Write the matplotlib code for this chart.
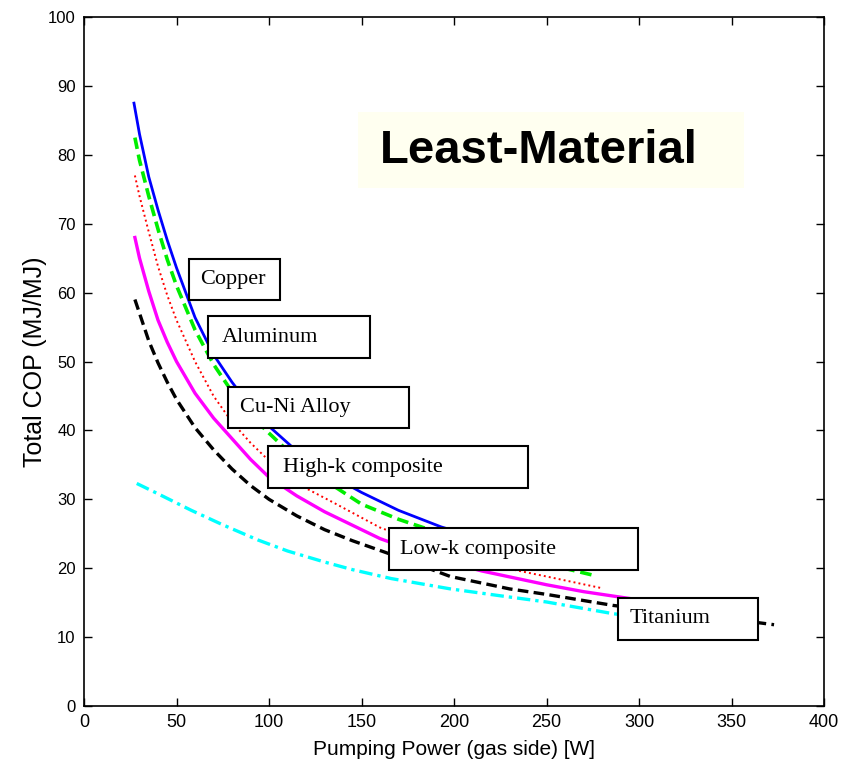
import matplotlib
matplotlib.use("Agg")
import matplotlib.pyplot as plt
from matplotlib.patches import Rectangle

# series (x = pumping power [W], y = total COP)
copperX = [27, 30, 35, 40, 45, 50, 60, 70, 80, 90, 100, 115, 130, 150, 170, 193, 230, 270]
copperY = [87.5, 83.0, 76.8, 72.0, 67.6, 63.6, 56.4, 51.0, 47.0, 43.5, 40.6, 37.0,
           34.0, 31.0, 28.4, 26.0, 23.0, 20.5]

aluminumX = [27.5, 30, 35, 40, 45, 50, 60, 70, 80, 90, 100, 115, 130, 150, 170, 190, 230, 275]
aluminumY = [82.5, 79.2, 74.0, 69.2, 64.8, 61.0, 54.6, 49.6, 45.6, 42.2, 39.6, 35.8,
             32.8, 29.3, 27.1, 25.3, 21.9, 19.0]

cuNiX = [27.5, 30, 35, 40, 45, 50, 60, 70, 80, 90, 100, 115, 135, 160, 200, 230, 250, 280]
cuNiY = [77.0, 74.0, 68.8, 63.8, 59.6, 56.0, 50.0, 45.0, 41.2, 38.2, 35.6, 32.3,
         29.5, 25.9, 22.0, 19.9, 18.8, 17.1]

highKX = [27.5, 30, 35, 40, 45, 50, 60, 70, 80, 90, 100, 115, 130, 160, 190, 215, 250, 270, 295]
highKY = [68.0, 65.0, 60.2, 56.0, 52.8, 50.0, 45.4, 41.8, 38.8, 35.8, 33.2, 30.5,
          28.2, 24.3, 21.4, 19.6, 17.6, 16.6, 15.6]

lowKX = [27.5, 30, 35, 40, 45, 50, 60, 70, 80, 90, 100, 115, 130, 145, 165, 198, 230,
         250, 286, 320, 350, 373]
lowKY = [59.0, 57.0, 53.0, 49.8, 47.0, 44.5, 40.4, 37.2, 34.4, 32.0, 30.0, 27.6,
         25.6, 24.0, 22.1, 18.8, 17.0, 16.2, 14.6, 13.5, 12.6, 11.8]

titaniumX = [28.5, 40, 58, 75, 94, 110, 130, 145, 166, 198, 225, 250, 286, 295]
titaniumY = [32.3, 30.8, 28.4, 26.3, 24.1, 22.5, 20.9, 19.8, 18.5, 17.0, 16.0, 15.1, 13.4, 13.1]

seriesNames = ["Copper", "Aluminum", "Cu-Ni Alloy", "High-k composite",
               "Low-k composite", "Titanium"]

# label boxes: (x0, x1, y0, y1) in data units, text x start
labelBoxes = [(56.8, 105.9, 58.9, 64.9), (67.0, 154.6, 50.5, 56.6),
              (77.8, 175.7, 40.3, 46.3), (99.5, 240.0, 31.6, 37.7),
              (164.9, 299.5, 19.7, 25.8), (288.6, 364.3, 9.6, 15.7)]
labelTextX = [62.7, 74.6, 84.3, 107.6, 170.8, 295.1]

xTicks = [0, 50, 100, 150, 200, 250, 300, 350, 400]
yTicks = [0, 10, 20, 30, 40, 50, 60, 70, 80, 90, 100]

fig = plt.figure(figsize=(8.53, 7.70), dpi=100)
ax = fig.add_axes([0.0985, 0.0831, 0.8675, 0.8948])

ax.plot(copperX, copperY, color="#0000ff", lw=2.0, ls="-", zorder=3)
ax.plot(aluminumX, aluminumY, color="#00ee00", lw=2.6, ls=(0, (3.2, 1.6)), zorder=3)
ax.plot(cuNiX, cuNiY, color="#ff0000", lw=1.4, ls=(0, (1, 1.6)), zorder=3)
ax.plot(highKX, highKY, color="#ff00ff", lw=2.4, ls="-", zorder=3)
ax.plot(lowKX, lowKY, color="black", lw=2.4, ls=(0, (3.2, 1.6)), zorder=3)
ax.plot(titaniumX, titaniumY, color="#00ffff", lw=2.4, ls=(0, (4, 1.5, 1, 1.5)), zorder=3)

for name, (x0, x1, y0, y1), tx in zip(seriesNames, labelBoxes, labelTextX):
    ax.add_patch(Rectangle((x0, y0), x1 - x0, y1 - y0, facecolor="white",
                           edgecolor="black", lw=1.5, zorder=5))
    ax.text(tx, (y0 + y1) / 2, name, ha="left", va="center", fontsize=16,
            family="Liberation Serif", zorder=6)

ax.add_patch(Rectangle((148.1, 75.2), 208.7, 11.0, facecolor="#fffff0",
                       edgecolor="none", zorder=2))
ax.text(160, 80.6, "Least-Material", ha="left", va="center", fontsize=34,
        fontweight="bold", family="Liberation Sans", zorder=4)

ax.set_xlim(0, 400)
ax.set_ylim(0, 100)
ax.set_xticks(xTicks)
ax.set_yticks(yTicks)
ax.tick_params(direction="in", length=6, width=1, top=True, right=True, pad=6)
for lab in ax.get_xticklabels():
    lab.set_family("Liberation Sans")
    lab.set_fontsize(13)
for lab in ax.get_yticklabels():
    lab.set_family("Liberation Sans")
    lab.set_fontsize(12)
for spine in ax.spines.values():
    spine.set_linewidth(1.2)

ax.set_xlabel("Pumping Power (gas side) [W]", fontsize=15,
              family="Liberation Sans", labelpad=6)
ax.set_ylabel("Total COP (MJ/MJ)", fontsize=18, family="Liberation Sans", labelpad=1)

fig.savefig("out.png", dpi=100, facecolor="white")
